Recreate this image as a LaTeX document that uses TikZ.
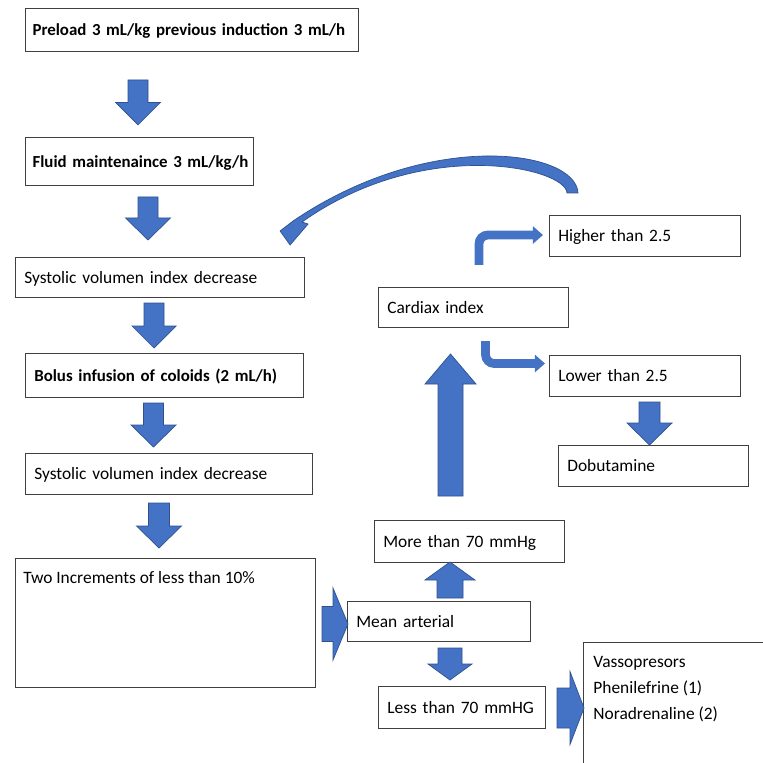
\documentclass[tikz,border=0pt]{standalone}
\usepackage{fontspec}
\setmainfont{Carlito}
\usetikzlibrary{arrows.meta, calc}
\definecolor{arrowblue}{HTML}{4472C4}
\definecolor{arrowedge}{HTML}{2F528F}
\definecolor{boxline}{HTML}{404040}
\tikzset{
  box/.style={draw=boxline, line width=0.6pt, anchor=north west, align=left, inner xsep=5pt, inner ysep=0pt, text height=6.3pt, text depth=0pt, font=\fontsize{9.9}{12}\selectfont},
  boldbox/.style={box, inner xsep=4pt, font=\fontsize{9.6}{12}\selectfont\bfseries},
  bigbox/.style={draw=boxline, line width=0.6pt, anchor=north west, inner sep=0pt},
  boxtext/.style={inner sep=0pt, font=\fontsize{9.9}{14.7}\selectfont},
  bentarrow/.style={draw=arrowblue, line width=5pt, rounded corners=5pt, -{Triangle[length=5.7pt, width=9.6pt]}},
  pics/blockarrow/.style args={#1/#2/#3/#4}{code={
    \filldraw[fill=arrowblue, draw=arrowedge, line width=0.4pt]
      (0,-#3/2) -- (#1-#2,-#3/2) -- (#1-#2,-#4/2) -- (#1,0) -- (#1-#2,#4/2) -- (#1-#2,#3/2) -- (0,#3/2) -- cycle;
  }}
}
\begin{document}
\begin{tikzpicture}[x=0.02cm, y=-0.02cm]
\fill[white] (0,0) rectangle (762,763);
\useasboundingbox (0,0) rectangle (762,763);

\node[boldbox, text width=6.38cm, minimum height=0.86cm] (preload) at (25,8) {\mbox{Preload 3 mL/kg previous induction 3 mL/h}};
\node[boldbox, text width=4.28cm, minimum height=0.96cm] (fluid) at (25,137) {\mbox{Fluid maintenaince 3 mL/kg/h}};
\node[box, text width=5.43cm, minimum height=0.80cm] (svi1) at (15,257) {Systolic volumen index decrease};
\node[boldbox, inner xsep=5pt, text width=5.21cm, minimum height=0.88cm] (bolus) at (25,353) {\mbox{Bolus infusion of coloids (2 mL/h)}};
\node[box, text width=5.39cm, minimum height=0.82cm] (svi2) at (25,453) {Systolic volumen index decrease};
\node[bigbox, minimum width=6cm, minimum height=2.58cm,
  label={[boxtext, anchor=base west, xshift=4.5pt, yshift=-14.7pt]north west:Two Increments of less than 10\%}] (twoinc) at (15,558) {};
\node[box, text width=3.31cm, minimum height=0.80cm] (mean) at (347,601) {Mean arterial};
\node[box, text width=2.99cm, minimum height=0.84cm] (less) at (378,686) {Less than 70 mmHG};
\node[bigbox, minimum width=4cm, minimum height=2.8cm,
  label={[boxtext, anchor=north west, align=left, xshift=5.7pt, yshift=-8.2pt]north west:Vassopresors\\Phenilefrine (1)\\Noradrenaline (2)}] (vaso) at (583,642) {};
\node[box, text width=3.45cm, minimum height=0.84cm] (more) at (374,520) {More than 70 mmHg};
\node[box, text width=3.45cm, minimum height=0.80cm] (cardiax) at (378,287) {Cardiax index};
\node[box, text width=3.47cm, minimum height=0.82cm] (higher) at (549,215) {Higher than 2.5};
\node[box, text width=3.47cm, minimum height=0.82cm] (lower) at (549,355) {Lower than 2.5};
\node[box, text width=3.45cm, minimum height=0.82cm] (dobut) at (558,445) {Dobutamine};

\pic[rotate=-90] (a1) at (138,80) {blockarrow={45/22.5/20/45}};
\pic[rotate=-90] (a2) at (148,197) {blockarrow={43/22/20/45}};
\pic[rotate=-90] (a3) at (154,303) {blockarrow={45/22/20/44}};
\pic[rotate=-90] (a4) at (153.5,403) {blockarrow={44/22/20/45}};
\pic[rotate=-90] (a5) at (159,503) {blockarrow={45/22/21/45}};
\pic (a6) at (322,624) {blockarrow={26/15/35/72}};
\pic[rotate=90] (a7) at (450,598) {blockarrow={36/18/26/50}};
\pic[rotate=-90] (a8) at (450,648) {blockarrow={32/16/24/44}};
\pic (a9) at (557,708) {blockarrow={27/14/40/73}};
\pic[rotate=90] (a10) at (450.5,496) {blockarrow={142/30/25/51}};
\pic[rotate=-90] (a11) at (649.5,402) {blockarrow={43/22/21/45}};

\draw[bentarrow] ($(cardiax.north)+(5.5,-22)$) |- ($(higher.west)+(-6,-1)$);
\draw[bentarrow] ($(cardiax.south)+(12,13)$) |- ($(lower.west)+(-4,-12.5)$);

\coordinate (loopfrom) at ($(higher.north west)+(23.5,-22)$);
\coordinate (loopto) at ($(svi1.north east)+(-15,-12)$);
\filldraw[fill=arrowblue, draw=arrowedge, line width=0.4pt]
  ($(loopfrom)+(5.5,0)$) .. controls ($(loopfrom)+(3.5,-43)$) and ($(loopto)+(140,-117)$) .. ($(loopto)+(3,-24)$)
  -- ($(loopto)+(-10,-14)$) -- (loopto) -- ($(loopto)+(18,-21)$) -- ($(loopto)+(12,-23)$)
  .. controls ($(loopto)+(135,-110)$) and ($(loopfrom)+(-6.5,-25)$) .. ($(loopfrom)+(-5.5,0)$) -- cycle;
\end{tikzpicture}
\end{document}
